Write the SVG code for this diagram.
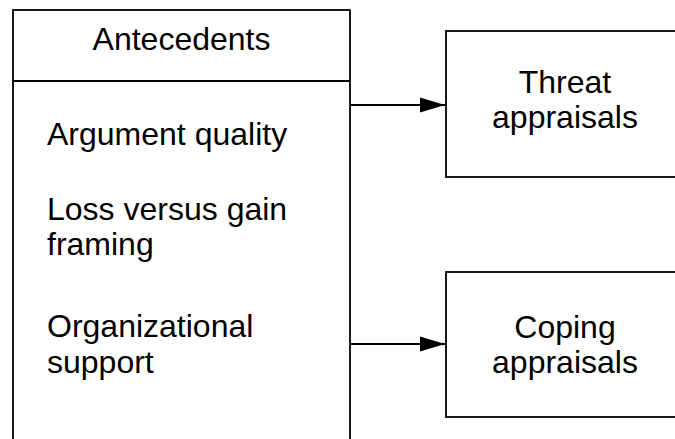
<svg xmlns="http://www.w3.org/2000/svg" width="675" height="439" viewBox="0 0 675 439">
<style>
.box{fill:#fff;stroke:#000;stroke-width:1.8}
.t{font-family:"Liberation Sans",Arial,sans-serif;font-size:32px;fill:#000}
.c{text-anchor:middle}
.ln{stroke:#000;stroke-width:1.8;fill:none}
</style>
<defs>
<marker id="ah" markerWidth="26" markerHeight="18" refX="25" refY="9" orient="auto" markerUnits="userSpaceOnUse">
<path d="M0,1.5 L25,9 L0,16.5 Z" fill="#000"/>
</marker>
</defs>
<rect width="675" height="439" fill="#fff"/>
<g id="antecedents">
<rect class="box" x="13" y="10" width="337" height="440"/>
<line class="ln" x1="13" y1="81" x2="350" y2="81"/>
<text class="t c" x="181.5" y="50">Antecedents</text>
<text class="t" x="47" y="145">Argument quality</text>
<text class="t" x="47" y="220">Loss versus gain</text>
<text class="t" x="47" y="255">framing</text>
<text class="t" x="47" y="337">Organizational</text>
<text class="t" x="47" y="373">support</text>
</g>
<g id="threat">
<rect class="box" x="446" y="31" width="238" height="146"/>
<text class="t c" x="565" y="93">Threat</text>
<text class="t c" x="565" y="128">appraisals</text>
</g>
<g id="coping">
<rect class="box" x="446" y="272" width="238" height="145"/>
<text class="t c" x="565" y="338">Coping</text>
<text class="t c" x="565" y="373">appraisals</text>
</g>
<g id="connectors">
<line class="ln" x1="350" y1="105" x2="445" y2="105" marker-end="url(#ah)"/>
<line class="ln" x1="350" y1="344" x2="445" y2="344" marker-end="url(#ah)"/>
</g>
</svg>
